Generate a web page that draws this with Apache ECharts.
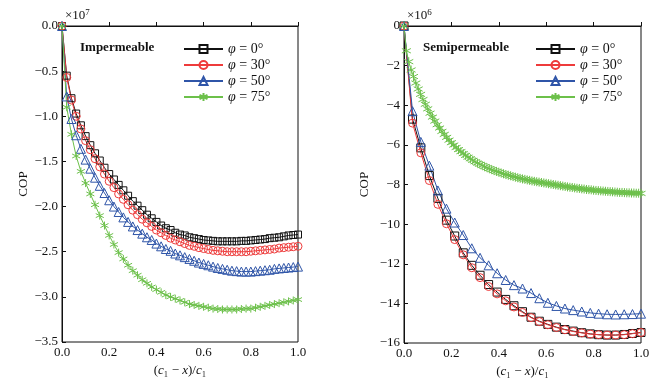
<!DOCTYPE html>
<html><head><meta charset="utf-8">
<script src="https://cdn.jsdelivr.net/npm/echarts@6/dist/echarts.min.js"></script>
<style>html,body{margin:0;padding:0;background:#fff}#c{width:659px;height:385px}</style>
</head><body><div id="c"></div>
<script>
// ---- Left panel (Impermeable), values in units of 1e7 ----
const xL = [0,0.02,0.04,0.06,0.08,0.10,0.12,0.14,0.16,0.18,0.20,0.22,0.24,0.26,0.28,0.30,0.32,0.34,0.36,0.38,0.40,0.42,0.44,0.46,0.48,0.50,0.52,0.54,0.56,0.58,0.60,0.62,0.64,0.66,0.68,0.70,0.72,0.74,0.76,0.78,0.80,0.82,0.84,0.86,0.88,0.90,0.92,0.94,0.96,0.98,1.00];
const imp0  = [0,-0.55,-0.80,-0.97,-1.10,-1.22,-1.32,-1.41,-1.49,-1.57,-1.64,-1.70,-1.76,-1.82,-1.88,-1.94,-1.99,-2.04,-2.09,-2.13,-2.17,-2.21,-2.24,-2.26,-2.29,-2.31,-2.32,-2.34,-2.35,-2.36,-2.37,-2.375,-2.38,-2.385,-2.385,-2.385,-2.385,-2.385,-2.38,-2.38,-2.375,-2.37,-2.365,-2.36,-2.35,-2.345,-2.34,-2.33,-2.32,-2.315,-2.31];
const imp30 = [0,-0.57,-0.82,-1.00,-1.14,-1.27,-1.37,-1.47,-1.56,-1.64,-1.72,-1.79,-1.86,-1.92,-1.98,-2.04,-2.09,-2.14,-2.18,-2.22,-2.26,-2.29,-2.32,-2.35,-2.37,-2.39,-2.41,-2.43,-2.44,-2.455,-2.465,-2.475,-2.485,-2.49,-2.495,-2.50,-2.50,-2.50,-2.50,-2.50,-2.495,-2.49,-2.485,-2.48,-2.475,-2.47,-2.46,-2.455,-2.45,-2.445,-2.44];
const imp50 = [0,-0.78,-1.03,-1.21,-1.36,-1.48,-1.58,-1.68,-1.77,-1.85,-1.93,-2.00,-2.06,-2.12,-2.17,-2.22,-2.26,-2.30,-2.34,-2.37,-2.41,-2.44,-2.47,-2.49,-2.52,-2.54,-2.56,-2.58,-2.60,-2.62,-2.635,-2.65,-2.665,-2.68,-2.69,-2.70,-2.71,-2.715,-2.72,-2.72,-2.72,-2.715,-2.71,-2.705,-2.70,-2.69,-2.685,-2.68,-2.675,-2.67,-2.665];
const imp75 = [0,-0.90,-1.20,-1.44,-1.61,-1.74,-1.86,-1.98,-2.10,-2.21,-2.32,-2.42,-2.51,-2.58,-2.65,-2.71,-2.76,-2.81,-2.85,-2.89,-2.92,-2.95,-2.98,-3.00,-3.02,-3.04,-3.06,-3.08,-3.09,-3.10,-3.11,-3.12,-3.13,-3.135,-3.14,-3.14,-3.14,-3.14,-3.135,-3.13,-3.13,-3.12,-3.11,-3.10,-3.09,-3.08,-3.07,-3.06,-3.05,-3.04,-3.03];

// ---- Right panel (Semipermeable), values in units of 1e6 ----
const xR = [0,0.036,0.071,0.107,0.143,0.179,0.214,0.25,0.286,0.321,0.357,0.393,0.429,0.464,0.5,0.536,0.571,0.607,0.643,0.679,0.714,0.75,0.786,0.821,0.857,0.893,0.929,0.964,1.0];
const semi0  = [0,-4.7,-6.15,-7.55,-8.7,-9.8,-10.6,-11.45,-12.08,-12.58,-13.05,-13.43,-13.8,-14.12,-14.42,-14.7,-14.9,-15.06,-15.2,-15.32,-15.4,-15.48,-15.54,-15.58,-15.6,-15.6,-15.57,-15.52,-15.47];
const semi30 = [0,-4.9,-6.4,-7.8,-9.0,-9.98,-10.78,-11.55,-12.2,-12.7,-13.15,-13.52,-13.87,-14.18,-14.46,-14.72,-14.92,-15.08,-15.22,-15.33,-15.42,-15.49,-15.55,-15.58,-15.6,-15.6,-15.58,-15.53,-15.47];
const semi50 = [0,-4.3,-5.85,-7.05,-8.3,-9.22,-9.92,-10.55,-11.22,-11.7,-12.08,-12.48,-12.82,-13.08,-13.25,-13.48,-13.74,-13.97,-14.13,-14.26,-14.34,-14.41,-14.48,-14.52,-14.55,-14.56,-14.55,-14.54,-14.52];
const xR75 = [0,0.01,0.02,0.03,0.04,0.05,0.06,0.07,0.08,0.09,0.10,0.11,0.12,0.13,0.14,0.15,0.16,0.17,0.18,0.19,0.20,0.21,0.22,0.23,0.24,0.25,0.26,0.27,0.28,0.29,0.30,0.31,0.32,0.33,0.34,0.35,0.36,0.37,0.38,0.39,0.40,0.41,0.42,0.43,0.44,0.45,0.46,0.47,0.48,0.49,0.50,0.51,0.52,0.53,0.54,0.55,0.56,0.57,0.58,0.59,0.60,0.61,0.62,0.63,0.64,0.65,0.66,0.67,0.68,0.69,0.70,0.71,0.72,0.73,0.74,0.75,0.76,0.77,0.78,0.79,0.80,0.81,0.82,0.83,0.84,0.85,0.86,0.87,0.88,0.89,0.90,0.91,0.92,0.93,0.94,0.95,0.96,0.97,0.98,0.99,1.00];
const semi75 = [0,-1.25,-1.80,-2.22,-2.55,-2.88,-3.18,-3.45,-3.71,-3.95,-4.18,-4.40,-4.60,-4.80,-4.98,-5.15,-5.32,-5.47,-5.62,-5.76,-5.89,-6.01,-6.13,-6.24,-6.34,-6.44,-6.53,-6.62,-6.70,-6.78,-6.85,-6.92,-6.98,-7.04,-7.10,-7.15,-7.20,-7.25,-7.30,-7.34,-7.38,-7.42,-7.46,-7.50,-7.53,-7.56,-7.60,-7.63,-7.66,-7.69,-7.72,-7.74,-7.77,-7.79,-7.82,-7.84,-7.86,-7.88,-7.90,-7.92,-7.94,-7.96,-7.98,-8.00,-8.02,-8.04,-8.06,-8.08,-8.10,-8.12,-8.14,-8.15,-8.17,-8.19,-8.20,-8.22,-8.23,-8.25,-8.26,-8.27,-8.29,-8.30,-8.31,-8.32,-8.33,-8.34,-8.35,-8.36,-8.37,-8.38,-8.39,-8.40,-8.40,-8.41,-8.42,-8.42,-8.43,-8.43,-8.44,-8.44,-8.45];

const names = ['φ = 0°','φ = 30°','φ = 50°','φ = 75°'];

const FONT = 'Liberation Serif';
const C_BLACK = '#111', C_RED = '#ee3b3b', C_BLUE = '#2f55a8', C_GREEN = '#6cc04a';
const STAR = 'path://M5 0L5 10M0.67 2.5L9.33 7.5M0.67 7.5L9.33 2.5';

function pairs(xs, ys){ return xs.map((x,i)=>[x, ys[i]]); }
function mk(name, xi, yi, xs, ys, color, symbol, size){
  return {
    type:'line', name, xAxisIndex:xi, yAxisIndex:yi, data:pairs(xs,ys),
    symbol, symbolSize:size, showAllSymbol:true,
    lineStyle:{color, width:1},
    itemStyle:{color: symbol===STAR ? color : 'rgba(255,255,255,0)', borderColor:color, borderWidth:1},
    emphasis:{disabled:true}, z: 2
  };
}
const minus = '\u2212';
function xAx(gi){
  return { type:'value', gridIndex:gi, min:0, max:1, interval:0.2,
    axisLine:{lineStyle:{color:'#111', width:1}},
    axisTick:{inside:true, length:4, lineStyle:{color:'#111'}},
    splitLine:{show:false},
    axisLabel:{fontFamily:FONT, fontSize:13, color:'#111', margin:4, formatter:v=>v.toFixed(1)},
    name:'({i|c}₁ − {i|x})/{i|c}₁', nameLocation:'middle', nameGap:16,
    nameTextStyle:{fontFamily:FONT, fontSize:13, color:'#111',
      rich:{i:{fontStyle:'italic', fontFamily:FONT, fontSize:13, color:'#111'}}}
  };
}
function yAx(gi, min, interval, dec, gap){
  return { type:'value', gridIndex:gi, min, max:0, interval,
    axisLine:{lineStyle:{color:'#111', width:1}},
    axisTick:{inside:true, length:4, lineStyle:{color:'#111'}},
    splitLine:{show:false},
    axisLabel:{fontFamily:FONT, fontSize:13, color:'#111', margin:4,
      formatter:v=> v===0 ? (0).toFixed(dec) : minus + Math.abs(v).toFixed(dec)},
    name:'COP', nameLocation:'middle', nameGap:gap, nameRotate:90,
    nameTextStyle:{fontFamily:FONT, fontSize:13, color:'#111'}
  };
}
function legend(left){
  return { orient:'vertical', left, top:42, padding:0, itemWidth:39, itemHeight:10, itemGap:2,
    data:names, selectedMode:false,
    textStyle:{fontFamily:FONT, fontSize:14, lineHeight:13, color:'#111',
      rich:{i:{fontStyle:'italic', fontFamily:FONT, fontSize:14, lineHeight:13, color:'#111'}}},
    formatter:n=>n.replace('φ','{i|φ}')
  };
}

const chart = echarts.init(document.getElementById('c'), null, {renderer:'canvas'});
chart.setOption({
  animation:false,
  backgroundColor:'#fff',
  grid:[
    {left:62, top:26, width:236, height:316, show:true, borderColor:'#111', borderWidth:1, backgroundColor:'transparent'},
    {left:404, top:26, width:237, height:317, show:true, borderColor:'#111', borderWidth:1, backgroundColor:'transparent'}
  ],
  xAxis:[xAx(0), xAx(1)],
  yAxis:[yAx(0,-3.5,0.5,1,31), yAx(1,-16,2,0,33)],
  legend:[legend(183), legend(535)],
  series:[
    mk(names[0],0,0,xL,imp0,C_BLACK,'rect',7),
    mk(names[1],0,0,xL,imp30,C_RED,'circle',8),
    mk(names[2],0,0,xL,imp50,C_BLUE,'triangle',9),
    mk(names[3],0,0,xL,imp75,C_GREEN,STAR,8),
    mk(names[0],1,1,xR,semi0,C_BLACK,'rect',8),
    mk(names[1],1,1,xR,semi30,C_RED,'circle',8),
    mk(names[2],1,1,xR,semi50,C_BLUE,'triangle',9),
    mk(names[3],1,1,xR75,semi75,C_GREEN,STAR,9)
  ],
  graphic:[
    {type:'text', left:80, top:41, style:{text:'Impermeable', font:'bold 13px "Liberation Serif"', fill:'#111'}},
    {type:'text', left:423, top:41, style:{text:'Semipermeable', font:'bold 13px "Liberation Serif"', fill:'#111'}},
    {type:'text', left:65, top:8, style:{text:'×10{s|7}', fontFamily:FONT, fontSize:13, fill:'#111',
      rich:{s:{fontFamily:FONT, fontSize:9, verticalAlign:'top', padding:[0,0,6,0]}}}},
    {type:'text', left:407, top:8, style:{text:'×10{s|6}', fontFamily:FONT, fontSize:13, fill:'#111',
      rich:{s:{fontFamily:FONT, fontSize:9, verticalAlign:'top', padding:[0,0,6,0]}}}}
  ]
});
</script></body></html>
